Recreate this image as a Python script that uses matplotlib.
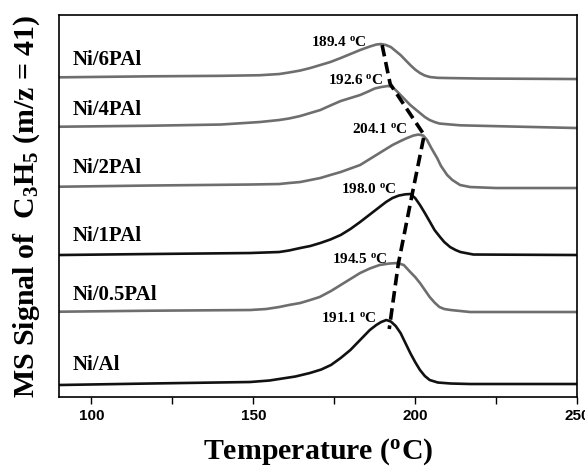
# C3H5 MS signal (m/z = 41) vs temperature for the Ni catalysts
import matplotlib
matplotlib.use("Agg")
import matplotlib.pyplot as plt
from matplotlib.ticker import MultipleLocator

plt.rcParams['mathtext.fontset'] = 'custom'
plt.rcParams['mathtext.rm'] = 'Liberation Serif:bold'
plt.rcParams['mathtext.it'] = 'Liberation Serif:bold'
plt.rcParams['mathtext.bf'] = 'Liberation Serif:bold'

# curves (signal in arbitrary units, offset stacked)
t_6 = [90, 118, 140, 152, 158, 161, 164.5, 167.6, 170.7, 173.8, 177, 180, 183, 186, 188, 189.4,
       191, 192.5, 194, 195.5, 197, 198.5, 200, 201.5, 203, 204.6, 207, 210, 220, 250]
s_6 = [319.7, 320.7, 321.2, 321.8, 323, 324.5, 326.5, 329, 332, 335, 339, 343, 347, 350.5, 352.5, 353,
       352, 350, 346, 342, 337, 332, 327.5, 324, 321.5, 320, 319.2, 319, 318.5, 318]

t_4 = [90, 118, 140, 152, 158, 161, 164.5, 167.6, 170.7, 173.8, 177, 180, 183, 185.5, 187.5, 189.5,
       191.5, 192.6, 194, 195.5, 197, 198.5, 200, 201.5, 203, 204.5, 206, 207.5, 211, 214, 250]
s_4 = [270.3, 271.3, 272.5, 275, 277, 278.5, 281, 284, 287, 291.5, 296, 299, 302, 305.5, 308.5, 310,
       311, 310.5, 307, 302, 297, 292, 288, 284, 280, 277, 275, 273.5, 272.5, 271.7, 269]

t_2 = [90, 118, 149, 158, 161, 164.5, 167.6, 170.7, 173.8, 177, 180, 183, 186, 189, 191, 193,
       195.5, 197.5, 199.5, 201, 202.5, 203.7, 205, 206.8, 208, 209.9, 211.5, 213.9, 217, 225, 250]
s_2 = [210.3, 211.5, 212.5, 213, 214, 215, 217, 219, 222, 225, 228.5, 232, 238, 244, 248, 252,
       256, 259, 261.5, 262.5, 261.5, 257, 249, 239, 231, 222, 217, 212, 210, 209, 209]

t_1 = [90, 118, 149, 158, 161, 164.5, 167.6, 170.7, 173.8, 177, 180, 183, 186, 189, 191, 193,
       195, 197, 198.5, 200, 201.5, 203, 204.6, 206, 207.7, 209, 210.8, 212.5, 214, 218, 250]
s_1 = [142, 143, 144, 145, 146.5, 149, 151, 154, 157.5, 162, 168, 175, 182.5, 190, 195, 199,
       201.5, 202.7, 203, 199, 192, 184, 175, 167, 160, 155, 150, 147, 145, 142.5, 142]

t_05 = [90, 118, 149, 154, 158, 161, 164.5, 167.6, 170.5, 174, 177, 180, 183, 186, 189, 192,
        194.5, 196.5, 198.5, 200, 201.5, 203, 204.5, 206, 207.5, 209, 211, 217, 250]
s_05 = [85.3, 86.3, 87, 88, 90, 92, 94, 97, 100, 106, 112, 118, 124, 128.5, 132, 133.5,
        134, 132, 125, 120, 114, 107, 100, 94.5, 90, 88, 87, 85, 85]

t_0 = [90, 118, 149, 155, 158, 163, 167.5, 171, 174, 177, 180, 183, 186, 188, 189.5, 191.1,
       192.5, 194, 195.5, 197, 198.5, 200, 201.5, 203, 204.5, 207, 211, 217, 250]
s_0 = [12, 13.5, 15, 16.5, 18, 20.5, 24, 27.5, 32, 39, 47, 57, 67, 72, 75, 77,
       75.5, 71, 64, 54, 44, 35, 27, 21, 17, 14.5, 13.5, 13, 13]

names = ['Ni/6PAl', 'Ni/4PAl', 'Ni/2PAl', 'Ni/1PAl', 'Ni/0.5PAl', 'Ni/Al']
name_y = [337, 287, 229, 161, 102, 32]
colors = ['#6e6e6e', '#6e6e6e', '#6e6e6e', '#111111', '#6e6e6e', '#111111']

peaks = ['189.4', '192.6', '204.1', '198.0', '194.5', '191.1']
peak_text_t = [185.2, 190.1, 197.8, 194.4, 191.4, 188.0]
peak_text_s = [355, 317, 268, 208, 138, 79]

# hand drawn dashed line through the maxima
line_t = [189.8, 192.3, 202.8, 199.1, 194.8, 192.0]
line_s = [352, 313, 262, 203, 133, 68]

fig = plt.figure(figsize=(5.85, 4.70), dpi=100)
ax = fig.add_axes([0.1009, 0.1553, 0.8854, 0.8127])

curves = [(t_6, s_6), (t_4, s_4), (t_2, s_2), (t_1, s_1), (t_05, s_05), (t_0, s_0)]
for (t, s), c in zip(curves, colors):
    ax.plot(t, s, color=c, lw=1.9, solid_joinstyle='round')

ax.plot(line_t, line_s, color='black', lw=2.6, linestyle=(0, (3.2, 1.6)))

for n, y in zip(names, name_y):
    ax.text(94.1, y, n, family='Liberation Serif', fontweight='bold', fontsize=15,
            va='center', ha='left')

for p, x, y in zip(peaks, peak_text_t, peak_text_s):
    ax.text(x, y, p + r' $^{o}$C', family='Liberation Serif', fontweight='bold',
            fontsize=11, va='center', ha='right')

ax.set_xlim(90, 250)
ax.set_ylim(0, 382)
ax.set_yticks([])
ax.xaxis.set_major_locator(MultipleLocator(50))
ax.xaxis.set_minor_locator(MultipleLocator(25))
ax.tick_params(axis='x', which='both', direction='out', length=5, width=1)
for lab in ax.get_xticklabels():
    lab.set_fontfamily('Liberation Sans')
    lab.set_fontweight('bold')
    lab.set_fontsize(11)
for sp in ax.spines.values():
    sp.set_linewidth(1.2)

ax.set_xlabel(r'Temperature ($^{o}$C)', family='Liberation Serif', fontweight='bold',
              fontsize=21.5, labelpad=10)
ax.set_ylabel(r'MS Signal of  C$_3$H$_5$ (m/z = 41)', family='Liberation Serif',
              fontweight='bold', fontsize=21.5, labelpad=12)

fig.savefig('out.png', dpi=100)
